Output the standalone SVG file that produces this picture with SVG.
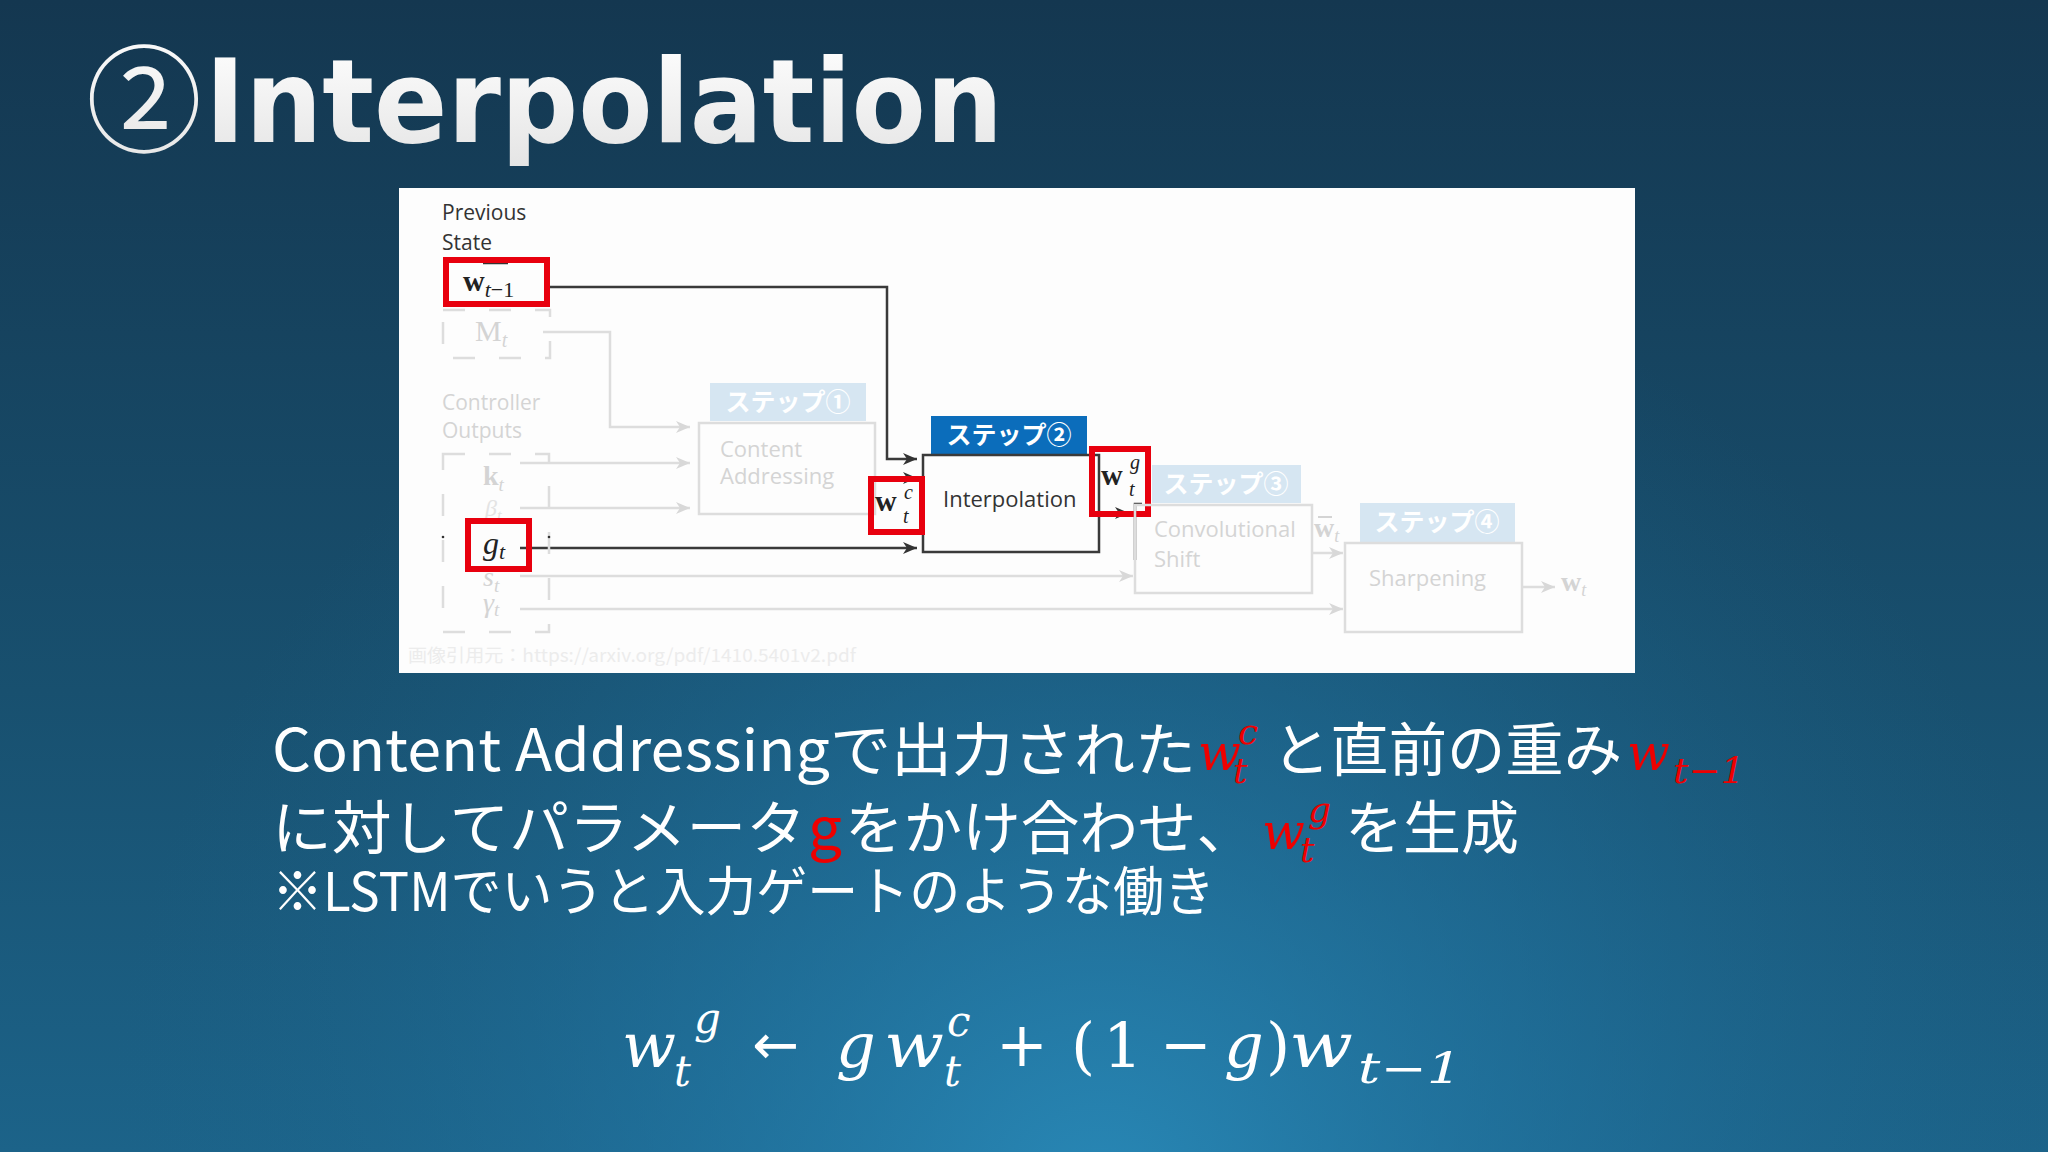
<svg xmlns="http://www.w3.org/2000/svg" width="2048" height="1152" viewBox="0 0 2048 1152">
<defs>
<linearGradient id="bgLin" x1="0" y1="0" x2="0" y2="1">
<stop offset="0" stop-color="#143750"/>
<stop offset="0.6" stop-color="#18506f"/>
<stop offset="1" stop-color="#1c6389"/>
</linearGradient>
<radialGradient id="bgRad" cx="1100" cy="1200" r="1000" gradientUnits="userSpaceOnUse">
<stop offset="0" stop-color="#2a8cbb" stop-opacity="0.9"/>
<stop offset="0.5" stop-color="#2278a6" stop-opacity="0.45"/>
<stop offset="1" stop-color="#1c6389" stop-opacity="0"/>
</radialGradient>
<linearGradient id="titleFill" x1="0" y1="0" x2="0" y2="1">
<stop offset="0" stop-color="#ffffff"/>
<stop offset="1" stop-color="#e4e4e4"/>
</linearGradient>
<marker id="arDk" viewBox="0 0 14 12" refX="14" refY="6" markerWidth="14" markerHeight="12" markerUnits="userSpaceOnUse" orient="auto">
<path d="M0,0 L14,6 L0,12 L4,6 z" fill="#333333"/>
</marker>
<marker id="arLt" viewBox="0 0 14 12" refX="14" refY="6" markerWidth="14" markerHeight="12" markerUnits="userSpaceOnUse" orient="auto">
<path d="M0,0 L14,6 L0,12 L4,6 z" fill="#d8d8d8"/>
</marker>
<style>
.dk{stroke:#3a3a3a;stroke-width:2.5;fill:none}
.lt{stroke:#dddddd;stroke-width:2.5;fill:none}
.dash{stroke:#dddddd;stroke-width:2.5;fill:none;stroke-dasharray:22 24}
.red{stroke:#e8000e;stroke-width:6;fill:none}
.lbl{font-family:"Open Sans","Liberation Sans",sans-serif;font-size:21px}
.box{font-family:"Open Sans","Liberation Sans",sans-serif;font-size:22px}
.dktx{fill:#333333}
.fade{fill:#d4d4d4}
.stepbg{fill:#d6e6f2}
.steptx{font-family:"Noto Sans CJK JP",sans-serif;font-weight:700;font-size:25px;fill:#ffffff;text-anchor:middle}
.ser{font-family:"Liberation Serif","DejaVu Serif",serif}
.body{font-family:"Noto Sans CJK JP",sans-serif;font-size:58px;fill:#ffffff}
.rm{font-family:"DejaVu Serif","Liberation Serif",serif;font-style:italic;fill:#ee0000}
.fm{font-family:"DejaVu Serif","Liberation Serif",serif;fill:#ffffff;font-size:62px}
</style>
</defs>

<g id="background">
<rect x="0" y="0" width="2048" height="1152" fill="url(#bgLin)"/>
<rect x="0" y="0" width="2048" height="1152" fill="url(#bgRad)"/>
</g>

<g id="title">
<text x="86" y="143" font-family="Noto Sans CJK JP, sans-serif" font-size="116" fill="url(#titleFill)">②</text>
<text x="205" y="142" font-family="DejaVu Sans Condensed, DejaVu Sans, sans-serif" font-weight="700" font-size="116" fill="url(#titleFill)" textLength="798" lengthAdjust="spacingAndGlyphs">Interpolation</text>
</g>

<g id="figure-panel">
<rect x="399" y="188" width="1236" height="485" fill="#fdfdfd"/>
</g>

<g id="connectors">
<path class="lt" d="M543,332 H610 V427 H690" marker-end="url(#arLt)"/>
<path class="lt" d="M520,463 H690" marker-end="url(#arLt)"/>
<path class="lt" d="M520,508 H690" marker-end="url(#arLt)"/>
<path class="lt" d="M520,576 H1133" marker-end="url(#arLt)"/>
<path class="lt" d="M520,609 H1343" marker-end="url(#arLt)"/>
<path class="lt" d="M1312,553 H1343" marker-end="url(#arLt)"/>
<path class="lt" d="M1522,587 H1555" marker-end="url(#arLt)"/>
<path class="dk" d="M548,287 H887 V459 H917" marker-end="url(#arDk)"/>
<path class="dk" d="M875,478 H917" marker-end="url(#arDk)"/>
<path class="dk" d="M520,548 H917" marker-end="url(#arDk)"/>
<path class="dk" d="M1099,513 H1129" marker-end="url(#arDk)"/>
<path class="dk" d="M1135,560 V504 H1142"/>
</g>

<g id="previous-state">
<text class="lbl dktx" x="442" y="220">Previous</text>
<text class="lbl dktx" x="442" y="250">State</text>
<path d="M483,263 H508" stroke="#333" stroke-width="2.5"/>
<text class="ser" x="463" y="291" font-size="30" font-weight="700" fill="#222">w<tspan font-style="italic" font-weight="400" font-size="22" dy="6">t</tspan><tspan font-weight="400" font-size="22">−1</tspan></text>
<rect class="red" x="446" y="260" width="101" height="44"/>
<rect class="dash" x="443" y="310" width="107" height="48"/>
<text class="ser fade" x="475" y="341" font-size="30">M<tspan font-style="italic" font-size="20" dy="6">t</tspan></text>
</g>

<g id="controller-outputs">
<text class="lbl fade" x="442" y="410">Controller</text>
<text class="lbl fade" x="442" y="438">Outputs</text>
<rect class="dash" x="443" y="454" width="106" height="178"/>
<circle cx="443" cy="537" r="1.3" fill="#333"/>
<circle cx="549" cy="537" r="1.3" fill="#333"/>
<text class="ser fade" x="483" y="485" font-size="28" font-weight="700">k<tspan font-style="italic" font-weight="400" font-size="19" dy="6">t</tspan></text>
<text class="ser fade" x="485" y="516" font-size="24" font-style="italic" opacity="0.6">β<tspan font-size="17" dy="5">t</tspan></text>
<text class="ser fade" x="483" y="586" font-size="28" font-style="italic">s<tspan font-size="19" dy="6">t</tspan></text>
<text class="ser fade" x="483" y="612" font-size="28" font-style="italic">γ<tspan font-size="19" dy="4">t</tspan></text>
<text class="ser" x="483" y="554" font-size="32" font-style="italic" fill="#222">g<tspan font-size="22" dy="5">t</tspan></text>
<rect class="red" x="468" y="521" width="61" height="48"/>
<text x="408" y="662" font-family="Noto Sans CJK JP, sans-serif" font-size="18" fill="#ececec" textLength="448" lengthAdjust="spacingAndGlyphs">画像引用元：https://arxiv.org/pdf/1410.5401v2.pdf</text>
</g>

<g id="step1-content-addressing">
<rect class="stepbg" x="710" y="383" width="156" height="38"/>
<text class="steptx" x="788" y="411">ステップ①</text>
<rect class="lt" x="699" y="423" width="176" height="91"/>
<text class="box fade" x="720" y="457">Content</text>
<text class="box fade" x="720" y="484">Addressing</text>
</g>

<g id="step2-interpolation">
<rect x="931" y="416" width="156" height="39" fill="#0b6dbb"/>
<text class="steptx" x="1009" y="444" font-size="26">ステップ②</text>
<rect class="dk" x="923" y="455" width="176" height="97"/>
<text class="box dktx" x="943" y="507">Interpolation</text>
<text class="ser" font-size="30" font-weight="700" fill="#222"><tspan x="875" y="511">w</tspan><tspan x="904" y="499" font-size="20" font-weight="400" font-style="italic">c</tspan><tspan x="903" y="523" font-size="20" font-weight="400" font-style="italic">t</tspan></text>
<rect class="red" x="871" y="479" width="51" height="53"/>
<text class="ser" font-size="30" font-weight="700" fill="#222"><tspan x="1101" y="485">w</tspan><tspan x="1130" y="469" font-size="20" font-weight="400" font-style="italic">g</tspan><tspan x="1129" y="496" font-size="20" font-weight="400" font-style="italic">t</tspan></text>
<rect class="red" x="1092" y="449" width="56" height="65"/>
</g>

<g id="step3-convolutional-shift">
<rect class="stepbg" x="1152" y="465" width="149" height="38"/>
<text class="steptx" x="1226" y="493">ステップ③</text>
<rect class="lt" x="1135" y="505" width="177" height="88"/>
<text class="box fade" x="1154" y="537">Convolutional</text>
<text class="box fade" x="1154" y="567">Shift</text>
<text class="ser fade" x="1314" y="537" font-size="28" font-weight="700">w<tspan font-style="italic" font-weight="400" font-size="18" dy="5">t</tspan></text>
<path d="M1318,517 H1332" stroke="#d4d4d4" stroke-width="2"/>
</g>

<g id="step4-sharpening">
<rect class="stepbg" x="1360" y="503" width="155" height="39"/>
<text class="steptx" x="1437" y="531">ステップ④</text>
<rect class="lt" x="1345" y="543" width="177" height="89"/>
<text class="box fade" x="1369" y="586">Sharpening</text>
<text class="ser fade" x="1561" y="591" font-size="28" font-weight="700">w<tspan font-style="italic" font-weight="400" font-size="18" dy="5">t</tspan></text>
</g>

<g id="explanation">
<text class="body" x="272" y="771" textLength="924" lengthAdjust="spacingAndGlyphs">Content Addressingで出力された</text>
<text class="rm" font-size="50"><tspan x="1198" y="770">w</tspan><tspan x="1238" y="744" font-size="36">c</tspan><tspan x="1233" y="783" font-size="36">t</tspan></text>
<text class="body" x="1272" y="771" textLength="350" lengthAdjust="spacingAndGlyphs">と直前の重み</text>
<text class="rm" font-size="50"><tspan x="1627" y="770">w</tspan><tspan x="1673" y="783" font-size="36" textLength="72" lengthAdjust="spacingAndGlyphs">t−1</tspan></text>

<text class="body" x="272" y="849" textLength="534" lengthAdjust="spacingAndGlyphs">に対してパラメータ</text>
<text class="body" x="808" y="849" style="fill:#ee0000" textLength="34" lengthAdjust="spacingAndGlyphs">g</text>
<text class="body" x="845" y="849" textLength="410" lengthAdjust="spacingAndGlyphs">をかけ合わせ、</text>
<text class="rm" font-size="50"><tspan x="1262" y="849">w</tspan><tspan x="1308" y="822" font-size="36">g</tspan><tspan x="1300" y="862" font-size="36">t</tspan></text>
<text class="body" x="1345" y="849" textLength="174" lengthAdjust="spacingAndGlyphs">を生成</text>

<text class="body" x="272" y="911" style="font-size:53px" textLength="943" lengthAdjust="spacingAndGlyphs">※LSTMでいうと入力ゲートのような働き</text>
</g>

<g id="formula">
<text class="fm"><tspan x="622" y="1067" font-style="italic" textLength="54" lengthAdjust="spacingAndGlyphs">w</tspan><tspan x="694" y="1033" font-size="42" font-style="italic">g</tspan><tspan x="674" y="1086" font-size="42" font-style="italic">t</tspan><tspan x="752" y="1064" font-family="DejaVu Sans, sans-serif" font-size="56">←</tspan><tspan x="836" y="1067" font-style="italic">g</tspan><tspan x="884" y="1067" font-style="italic" textLength="60" lengthAdjust="spacingAndGlyphs">w</tspan><tspan x="947" y="1036" font-size="42" font-style="italic">c</tspan><tspan x="944" y="1086" font-size="42" font-style="italic">t</tspan><tspan x="996" y="1066">+</tspan><tspan x="1071" y="1067">(</tspan><tspan x="1103" y="1067">1</tspan><tspan x="1160" y="1066">−</tspan><tspan x="1224" y="1067" font-style="italic">g</tspan><tspan x="1266" y="1067">)</tspan><tspan x="1289" y="1067" font-style="italic" textLength="64" lengthAdjust="spacingAndGlyphs">w</tspan><tspan x="1358" y="1083" font-size="42" font-style="italic" textLength="104" lengthAdjust="spacingAndGlyphs">t−1</tspan></text>
</g>
</svg>
